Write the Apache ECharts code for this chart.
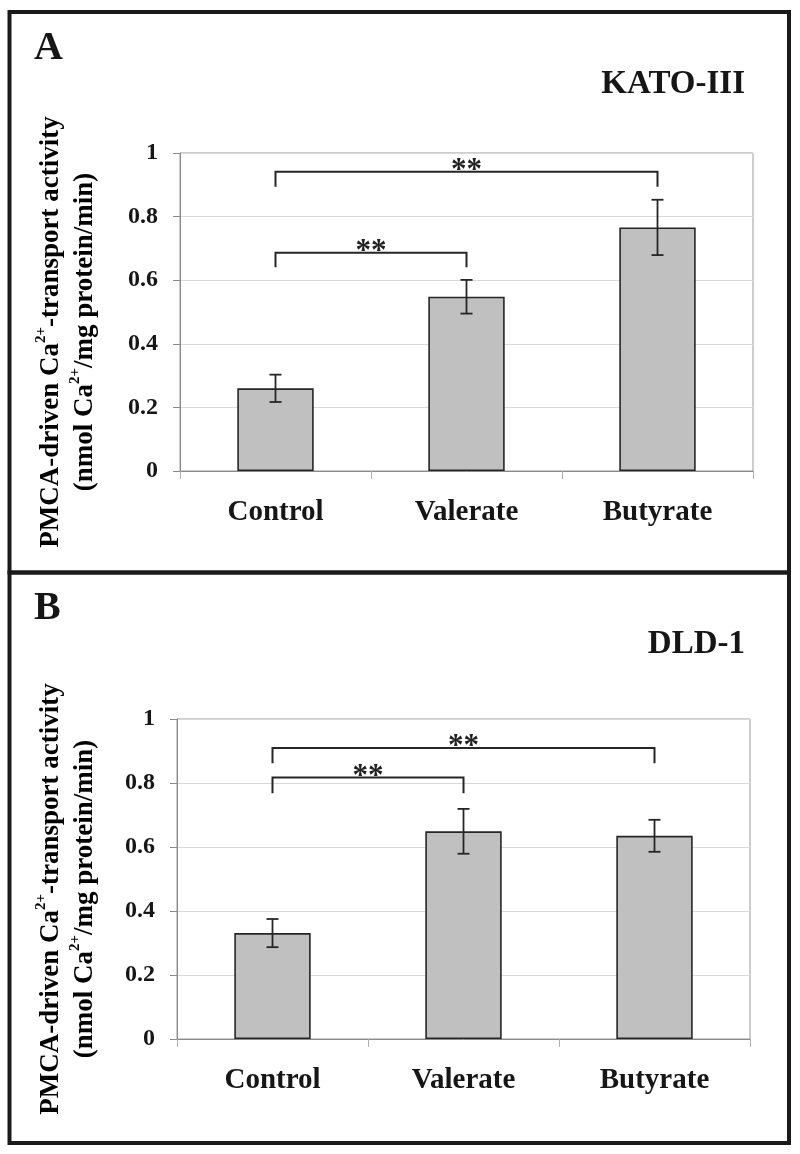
<!DOCTYPE html>
<html>
<head>
<meta charset="utf-8">
<script src="https://cdn.jsdelivr.net/npm/echarts@6/dist/echarts.min.js"></script>
<style>html,body{margin:0;padding:0;background:#fff;}#c{width:800px;height:1154px;}</style>
</head>
<body>
<div id="c"></div>
<script>
// ---- data ----
const categories = ['Control', 'Valerate', 'Butyrate'];
const kato_mean = [0.26, 0.548, 0.766];
const kato_err = [0.043, 0.053, 0.087];
const dld_mean = [0.331, 0.649, 0.635];
const dld_err = [0.044, 0.07, 0.05];
// brackets: [fromIndex, toIndex, barLevel, dropLevel]
const kato_brackets = [[0, 1, 0.686, 0.641], [0, 2, 0.941, 0.894]];
const dld_brackets = [[0, 1, 0.817, 0.768], [0, 2, 0.909, 0.862]];
const bracket_label = '**';
const panel_labels = ['A', 'B'];
const cell_lines = ['KATO-III', 'DLD-1'];
const y_min = 0, y_max = 1, y_step = 0.2;

const FONT = '"Liberation Serif", "Times New Roman", serif';

const chart = echarts.init(document.getElementById('c'), null, {renderer: 'canvas'});

function xAxisCfg(gi) {
  return {
    type: 'category', gridIndex: gi, data: categories,
    axisLine: {lineStyle: {color: '#8a8a8a', width: 1}},
    axisTick: {show: true, length: 8, lineStyle: {color: '#b0b0b0'}},
    axisLabel: {fontSize: 29, fontWeight: 'bold', fontFamily: FONT, color: '#161616', margin: 27}
  };
}
function yAxisCfg(gi) {
  return {
    type: 'value', gridIndex: gi, min: y_min, max: y_max, interval: y_step,
    axisLine: {show: true, lineStyle: {color: '#8a8a8a', width: 1}},
    axisTick: {show: true, length: 7, lineStyle: {color: '#8a8a8a'}},
    axisLabel: {fontSize: 24, fontWeight: 'bold', fontFamily: FONT, color: '#161616', margin: 22},
    splitLine: {show: true, lineStyle: {color: '#d9d9d9', width: 1}}
  };
}
function barSeries(gi, data) {
  return {
    type: 'bar', xAxisIndex: gi, yAxisIndex: gi, data: data, barWidth: '40%',
    itemStyle: {color: '#c0c0c0', borderColor: '#262626', borderWidth: 1.6},
    silent: true, z: 2
  };
}
function errSeries(gi, mean, err) {
  return {
    type: 'custom', xAxisIndex: gi, yAxisIndex: gi, z: 3,
    data: mean.map((m, i) => [i, m, err[i]]),
    encode: {x: 0, y: 1},
    renderItem: function (params, api) {
      const i = api.value(0), m = api.value(1), e = api.value(2);
      const top = api.coord([i, m + e]);
      const bot = api.coord([i, m - e]);
      const hw = 6;
      const st = {stroke: '#262626', lineWidth: 1.8};
      return {type: 'group', children: [
        {type: 'line', shape: {x1: top[0], y1: top[1], x2: bot[0], y2: bot[1]}, style: st},
        {type: 'line', shape: {x1: top[0] - hw, y1: top[1], x2: top[0] + hw, y2: top[1]}, style: st},
        {type: 'line', shape: {x1: bot[0] - hw, y1: bot[1], x2: bot[0] + hw, y2: bot[1]}, style: st}
      ]};
    }
  };
}
function bracketSeries(gi, brackets) {
  return {
    type: 'custom', xAxisIndex: gi, yAxisIndex: gi, z: 4,
    data: brackets,
    encode: {x: [0, 1], y: [2, 3]},
    renderItem: function (params, api) {
      const a = api.value(0), b = api.value(1), lv = api.value(2), dr = api.value(3);
      const p0 = api.coord([a, dr]), p1 = api.coord([a, lv]);
      const p2 = api.coord([b, lv]), p3 = api.coord([b, dr]);
      return {type: 'group', children: [
        {type: 'polyline', shape: {points: [p0, p1, p2, p3]},
         style: {stroke: '#262626', lineWidth: 2, fill: null}},
        {type: 'text', style: {text: bracket_label, x: (p1[0] + p2[0]) / 2, y: p1[1] - 1,
          align: 'center', verticalAlign: 'middle',
          font: 'bold 31px ' + FONT, fill: '#222'}}
      ]};
    }
  };
}

const titleRich = {
  b: {fontSize: 27, fontWeight: 'bold', fontFamily: FONT, color: '#161616', lineHeight: 34},
  s: {fontSize: 15, fontWeight: 'bold', fontFamily: FONT, color: '#161616', lineHeight: 16, verticalAlign: 'top'}
};
const titleText = '{b|PMCA-driven Ca}{s|2+}{b|-transport activity}\n{b|(nmol Ca}{s|2+}{b|/mg protein/min)}';

function panelGraphics(top, idx, plotTop, plotBottom) {
  return [
    {type: 'text', x: 34, y: top + 17,
     style: {text: panel_labels[idx], font: 'bold 40px ' + FONT, fill: '#161616', align: 'left', verticalAlign: 'top'}},
    {type: 'text', x: 745, y: top + 72,
     style: {text: cell_lines[idx], font: 'bold 33px ' + FONT, fill: '#161616', align: 'right', verticalAlign: 'middle'}},
    {type: 'text', x: 68, y: (plotTop + plotBottom) / 2 + 20, rotation: Math.PI / 2,
     style: {text: titleText, rich: titleRich, align: 'center', verticalAlign: 'middle'}}
  ];
}

const option = {
  animation: false,
  backgroundColor: '#ffffff',
  grid: [
    {left: 180, top: 153, width: 573, height: 318, show: true, borderColor: '#9a9a9a', borderWidth: 1},
    {left: 177, top: 719, width: 573, height: 320, show: true, borderColor: '#9a9a9a', borderWidth: 1}
  ],
  xAxis: [xAxisCfg(0), xAxisCfg(1)],
  yAxis: [yAxisCfg(0), yAxisCfg(1)],
  series: [
    barSeries(0, kato_mean), errSeries(0, kato_mean, kato_err), bracketSeries(0, kato_brackets),
    barSeries(1, dld_mean), errSeries(1, dld_mean, dld_err), bracketSeries(1, dld_brackets)
  ],
  graphic: [
    {type: 'rect', shape: {x: 9.5, y: 12, width: 779.5, height: 560.5},
     style: {fill: null, stroke: '#1a1a1a', lineWidth: 4}, z: 10},
    {type: 'rect', shape: {x: 9.5, y: 572.5, width: 779.5, height: 570.5},
     style: {fill: null, stroke: '#1a1a1a', lineWidth: 4}, z: 10}
  ].concat(panelGraphics(12, 0, 153, 471), panelGraphics(572, 1, 719, 1039))
};
chart.setOption(option);
</script>
</body>
</html>
